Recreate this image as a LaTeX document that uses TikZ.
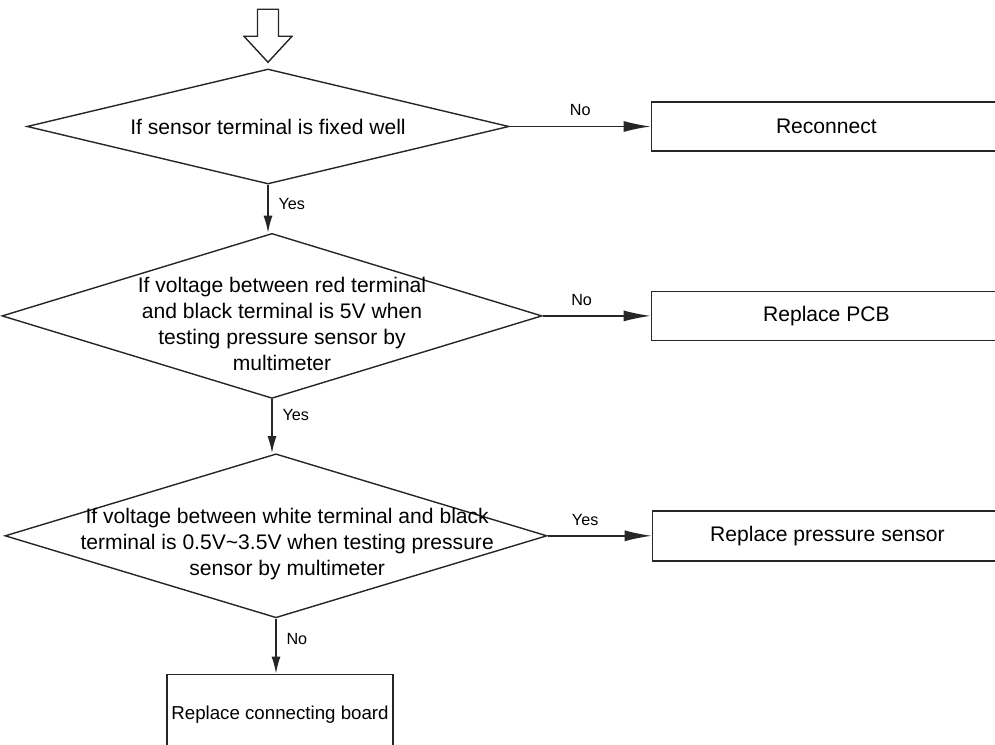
\documentclass[tikz,border=0pt]{standalone}
\usepackage{fontspec}
\setmainfont{Liberation Sans}
\usetikzlibrary{positioning,arrows.meta,shapes.geometric}

\begin{document}
\begin{tikzpicture}[
    decisionBox/.style={diamond, draw=black!85, line width=1pt, inner sep=0pt},
    decisionText/.style={font=\fontsize{15}{18.5}\selectfont, align=center, inner sep=0pt},
    actionBox/.style={rectangle, draw=black!85, line width=1pt, inner sep=0pt, minimum width=8.75cm, minimum height=1.225cm, font=\fontsize{15}{18}\selectfont},
    entryArrow/.style={draw=black!85, line width=1pt, fill=white, line join=miter},
    flowArrow/.style={-{Latex[length=0.425cm, width=0.225cm]}, line width=1pt, draw=black!85, fill=black!85},
    sideArrow/.style={-{Latex[length=0.675cm, width=0.275cm]}, line width=1pt, draw=black!85, fill=black!85},
    edgeLabel/.style={font=\fontsize{11.5}{14}\selectfont, inner sep=2pt}
]
    \useasboundingbox (0,0) rectangle (24.875,-18.625);
    \clip (0,0) rectangle (24.875,-18.625);

    % Decision 1: terminal check
    \node[decisionBox, minimum width=12.05cm, minimum height=2.875cm] (d1) at (6.7,-3.1625) {};
    \node[decisionText] (d1t) at (d1.center) {If sensor terminal is fixed well};

    % Entry arrow (hollow)
    \draw[entryArrow] ([yshift=0.15cm]d1.north) coordinate (entry)
        -- ++(-0.6,0.65) -- ++(0.3375,0) -- ++(0,0.675) -- ++(0.525,0)
        -- ++(0,-0.675) -- ++(0.3375,0) -- cycle;

    % Decision 2: red/black voltage
    \node[decisionBox, minimum width=13.5cm, minimum height=4.125cm, below=1.2cm of d1, xshift=0.1cm] (d2) {};
    \node[decisionText, xshift=0.25cm, yshift=-0.2cm] (d2t) at (d2.center) {
        If voltage between red terminal\\
        and black terminal is 5V when\\
        testing pressure sensor by\\
        multimeter};

    % Decision 3: white/black voltage
    \node[decisionBox, minimum width=13.55cm, minimum height=4.1cm, below=1.35cm of d2, xshift=0.1cm] (d3) {};
    \node[decisionText, xshift=0.28cm, yshift=-0.2cm] (d3t) at (d3.center) {
        If voltage between white terminal and black\\
        terminal is 0.5V\textasciitilde3.5V when testing pressure\\
        sensor by multimeter};

    % Actions
    \node[actionBox, right=3.525cm of d1] (reconnect) {Reconnect};
    \node[actionBox, right=2.7cm of d2] (pcb) {Replace PCB};
    \node[actionBox, minimum height=1.25cm, right=2.6cm of d3] (sensor) {Replace pressure sensor};
    \node[actionBox, minimum width=5.65cm, minimum height=2cm, font=\fontsize{13.3}{16}\selectfont, below=1.375cm of d3, xshift=0.1cm] (board) {Replace connecting board};

    % Arrows down
    \draw[flowArrow] (d1.south) -- (d1.south |- d2.north)
        node[edgeLabel, pos=0.4, right=5pt] {Yes};
    \draw[flowArrow] (d2.south) -- (d2.south |- d3.north)
        node[edgeLabel, pos=0.3, right=5pt] {Yes};
    \draw[flowArrow] (d3.south) -- (d3.south |- board.north)
        node[edgeLabel, pos=0.38, right=5pt] {No};

    % Arrows right
    \draw[sideArrow] (d1.east) -- (reconnect.west)
        node[edgeLabel, midway, above=5pt] {No};
    \draw[sideArrow] (d2.east) -- (pcb.west)
        node[edgeLabel, pos=0.36, above=5pt] {No};
    \draw[sideArrow] (d3.east) -- (sensor.west)
        node[edgeLabel, pos=0.36, above=5pt] {Yes};

\end{tikzpicture}
\end{document}
